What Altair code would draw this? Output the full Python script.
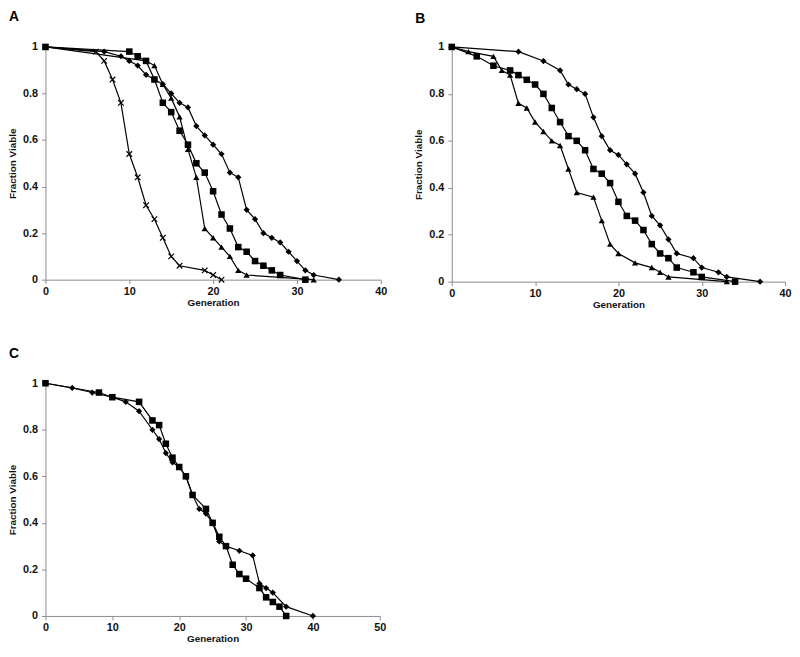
import altair as alt
import pandas as pd

# ---------------- Panel A ----------------
A_diamond_gen = [0, 7, 9, 10, 11, 12, 13, 14, 15, 16, 17, 18, 19, 20, 21, 22, 23, 24, 25, 26, 27, 28, 29, 30, 31, 32, 35]
A_diamond_val = [1, 0.98, 0.96, 0.94, 0.92, 0.88, 0.86, 0.84, 0.80, 0.76, 0.74, 0.66, 0.62, 0.58, 0.54, 0.46, 0.44, 0.30, 0.26, 0.20, 0.18, 0.16, 0.12, 0.08, 0.04, 0.02, 0]
A_square_gen = [0, 10, 11, 12, 13, 14, 15, 16, 17, 18, 19, 20, 21, 22, 23, 24, 25, 26, 27, 28, 31]
A_square_val = [1, 0.98, 0.96, 0.94, 0.86, 0.76, 0.72, 0.64, 0.58, 0.50, 0.46, 0.38, 0.28, 0.22, 0.14, 0.12, 0.08, 0.06, 0.04, 0.02, 0]
A_triangle_gen = [0, 12, 13, 14, 15, 16, 17, 18, 19, 20, 21, 22, 23, 24, 32]
A_triangle_val = [1, 0.94, 0.92, 0.84, 0.78, 0.70, 0.56, 0.44, 0.22, 0.18, 0.14, 0.10, 0.04, 0.02, 0]
A_cross_gen = [0, 6, 7, 8, 9, 10, 11, 12, 13, 14, 15, 16, 19, 20, 21]
A_cross_val = [1, 0.98, 0.94, 0.86, 0.76, 0.54, 0.44, 0.32, 0.26, 0.18, 0.10, 0.06, 0.04, 0.02, 0]

# ---------------- Panel B ----------------
B_diamond_gen = [0, 8, 11, 13, 14, 15, 16, 17, 18, 19, 20, 21, 22, 23, 24, 25, 26, 27, 29, 30, 32, 33, 37]
B_diamond_val = [1, 0.98, 0.94, 0.90, 0.84, 0.82, 0.80, 0.70, 0.62, 0.56, 0.54, 0.50, 0.46, 0.38, 0.28, 0.24, 0.18, 0.12, 0.10, 0.06, 0.04, 0.02, 0]
B_square_gen = [0, 3, 5, 7, 8, 9, 10, 11, 12, 13, 14, 15, 16, 17, 18, 19, 20, 21, 22, 23, 24, 25, 26, 27, 29, 30, 34]
B_square_val = [1, 0.96, 0.92, 0.90, 0.88, 0.86, 0.84, 0.80, 0.74, 0.68, 0.62, 0.60, 0.56, 0.48, 0.46, 0.42, 0.34, 0.28, 0.26, 0.22, 0.16, 0.12, 0.10, 0.06, 0.04, 0.02, 0]
B_triangle_gen = [0, 2, 5, 6, 7, 8, 9, 10, 11, 12, 13, 14, 15, 17, 18, 19, 20, 22, 24, 25, 26, 33]
B_triangle_val = [1, 0.98, 0.96, 0.90, 0.88, 0.76, 0.74, 0.68, 0.64, 0.60, 0.58, 0.48, 0.38, 0.36, 0.26, 0.16, 0.12, 0.08, 0.06, 0.04, 0.02, 0]

# ---------------- Panel C ----------------
C_diamond_gen = [0, 4, 7, 10, 12, 14, 16, 17, 18, 19, 20, 21, 22, 23, 24, 25, 26, 27, 29, 31, 32, 33, 34, 36, 40]
C_diamond_val = [1, 0.98, 0.96, 0.94, 0.92, 0.88, 0.80, 0.76, 0.70, 0.66, 0.64, 0.60, 0.52, 0.46, 0.44, 0.40, 0.32, 0.30, 0.28, 0.26, 0.14, 0.12, 0.10, 0.04, 0]
C_square_gen = [0, 8, 10, 14, 16, 17, 18, 19, 20, 21, 22, 24, 25, 26, 27, 28, 29, 30, 32, 33, 34, 35, 36]
C_square_val = [1, 0.96, 0.94, 0.92, 0.84, 0.82, 0.74, 0.68, 0.64, 0.60, 0.52, 0.46, 0.40, 0.34, 0.30, 0.22, 0.18, 0.16, 0.12, 0.08, 0.06, 0.04, 0]

Y_TICKS = [0, 0.2, 0.4, 0.6, 0.8, 1]


def make_df(series):
    rows = []
    for name, (g, v) in series.items():
        for gi, vi in zip(g, v):
            rows.append({"series": name, "gen": gi, "val": vi})
    return pd.DataFrame(rows)


MARKERS = {
    "triangle": dict(shape="triangle-up", size=40, filled=True),
    "square": dict(shape="square", size=44, filled=True),
    "diamond": dict(shape="diamond", size=40, filled=True),
    "cross": dict(shape="M-1,-1L1,1M-1,1L1,-1", size=32, filled=False, strokeWidth=1.2),
}


def panel(series, xmax, letter, width, height, letter_y=-37):
    df = make_df(series)
    x = alt.X("gen:Q", scale=alt.Scale(domain=[0, xmax], nice=False),
              axis=alt.Axis(values=list(range(0, xmax + 1, 10)), format="d", title="Generation"))
    y = alt.Y("val:Q", scale=alt.Scale(domain=[0, 1], nice=False),
              axis=alt.Axis(values=Y_TICKS, format="~g", title="Fraction Viable"))
    base = alt.Chart(df)
    layers = [base.mark_line(color="black", strokeWidth=1.2).encode(
        x=x, y=y, detail="series:N", order="gen:Q")]
    for name in ["cross", "triangle", "square", "diamond"]:
        if name not in series:
            continue
        m = MARKERS[name]
        layers.append(
            base.transform_filter(alt.datum.series == name)
            .mark_point(color="black", opacity=1, **m)
            .encode(x=x, y=y)
        )
    lab = alt.Chart(pd.DataFrame({"t": [letter]})).mark_text(
        align="left", baseline="top", fontSize=14, fontWeight="bold",
        font="Liberation Sans", color="black"
    ).encode(text="t:N", x=alt.value(-37), y=alt.value(letter_y))
    layers.append(lab)
    return alt.layer(*layers).properties(width=width, height=height)


pA = panel({"diamond": (A_diamond_gen, A_diamond_val),
            "square": (A_square_gen, A_square_val),
            "triangle": (A_triangle_gen, A_triangle_val),
            "cross": (A_cross_gen, A_cross_val)}, 40, "A", 340, 236)
pB = panel({"diamond": (B_diamond_gen, B_diamond_val),
            "square": (B_square_gen, B_square_val),
            "triangle": (B_triangle_gen, B_triangle_val)}, 40, "B", 338, 238, letter_y=-35)
pC = panel({"diamond": (C_diamond_gen, C_diamond_val),
            "square": (C_square_gen, C_square_val)}, 50, "C", 339, 236)

chart = alt.vconcat(
    alt.hconcat(pA, pB, spacing=26),
    pC,
    spacing=38,
).properties(
    padding={"left": -1, "top": -2, "right": 0, "bottom": 0}
).configure_view(
    stroke=None
).configure_axis(
    grid=False, domainColor="#8a8a8a", tickColor="#8a8a8a", tickSize=4,
    domainWidth=1, tickWidth=1,
    labelFont="Liberation Sans", labelFontSize=11, labelFontWeight="bold",
    labelColor="#111111", labelFlush=False,
    titleFont="Liberation Sans", titleFontSize=10, titleFontWeight="bold", titleColor="#111111",
).configure_axisX(
    labelPadding=2, titlePadding=1
).configure_axisY(
    labelPadding=4, titlePadding=5
)

chart.save("out.html", embed_options={"renderer": "svg", "actions": False})
